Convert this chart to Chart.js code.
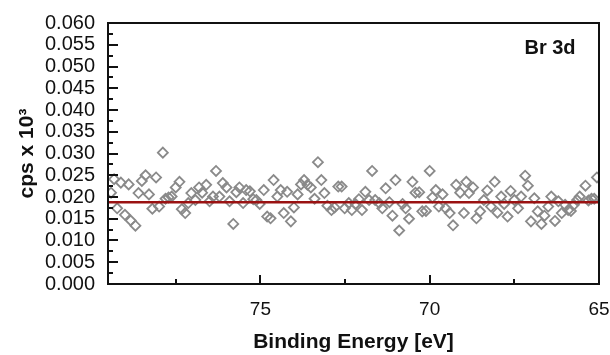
<!DOCTYPE html>
<html>
<head>
<meta charset="utf-8">
<script src="https://cdn.jsdelivr.net/npm/chart.js@4.4.1/dist/chart.umd.min.js"></script>
<style>
html,body{margin:0;padding:0;background:#fff;}
#wrap{width:610px;height:355px;position:relative;}
</style>
</head>
<body>
<div id="wrap"><canvas id="c" width="610" height="355"></canvas></div>
<script>
// Binding energies (eV) of the measured points
const energies = [79.41,79.32,79.23,79.12,79.00,78.89,78.83,78.69,78.60,78.50,78.39,78.29,78.19,78.08,77.99,77.88,77.80,77.71,77.62,77.50,77.39,77.32,77.22,77.13,77.04,76.92,76.81,76.72,76.60,76.50,76.40,76.31,76.21,76.11,76.00,75.91,75.80,75.71,75.62,75.51,75.42,75.31,75.21,75.12,75.02,74.90,74.80,74.70,74.61,74.50,74.40,74.31,74.21,74.10,74.01,73.90,73.80,73.71,73.61,73.51,73.40,73.30,73.20,73.11,73.02,72.90,72.81,72.70,72.60,72.51,72.39,72.30,72.19,72.09,72.00,71.90,71.79,71.70,71.61,71.49,71.40,71.30,71.19,71.10,71.01,70.90,70.80,70.71,70.61,70.51,70.42,70.31,70.22,70.11,70.00,69.92,69.82,69.73,69.62,69.53,69.41,69.31,69.22,69.10,68.99,68.92,68.84,68.72,68.62,68.51,68.40,68.30,68.19,68.08,68.00,67.89,67.80,67.70,67.61,67.50,67.39,67.30,67.18,67.10,67.01,66.91,66.81,66.70,66.61,66.50,66.41,66.30,66.20,66.10,66.00,65.91,65.83,65.74,65.65,65.57,65.40,65.31,65.22,65.14,65.06];
// Counts (cps x 10^3)
const counts = [0.0210,0.0241,0.0174,0.0233,0.0159,0.0229,0.0146,0.0134,0.0209,0.0237,0.0250,0.0206,0.0173,0.0245,0.0178,0.0302,0.0196,0.0199,0.0201,0.0222,0.0235,0.0172,0.0163,0.0186,0.0209,0.0193,0.0222,0.0210,0.0228,0.0190,0.0201,0.0260,0.0201,0.0232,0.0222,0.0190,0.0138,0.0211,0.0222,0.0186,0.0216,0.0213,0.0195,0.0193,0.0184,0.0216,0.0155,0.0151,0.0239,0.0201,0.0216,0.0163,0.0212,0.0144,0.0176,0.0206,0.0229,0.0239,0.0228,0.0222,0.0196,0.0280,0.0239,0.0209,0.0180,0.0170,0.0176,0.0224,0.0224,0.0174,0.0186,0.0170,0.0184,0.0195,0.0170,0.0212,0.0193,0.0260,0.0193,0.0186,0.0174,0.0220,0.0188,0.0157,0.0239,0.0123,0.0184,0.0174,0.0150,0.0235,0.0210,0.0211,0.0167,0.0168,0.0260,0.0199,0.0216,0.0178,0.0206,0.0174,0.0163,0.0135,0.0228,0.0210,0.0163,0.0235,0.0209,0.0222,0.0151,0.0167,0.0193,0.0215,0.0178,0.0235,0.0164,0.0201,0.0184,0.0155,0.0214,0.0193,0.0174,0.0201,0.0249,0.0226,0.0144,0.0197,0.0167,0.0138,0.0157,0.0178,0.0201,0.0145,0.0190,0.0163,0.0182,0.0170,0.0168,0.0182,0.0193,0.0201,0.0226,0.0192,0.0196,0.0196,0.0245];
// Background (baseline) line
const baselineX = [79.5, 65];
const baselineY = [0.0188, 0.0188];
// Axis ticks
const xMajorTicks = [75, 70, 65];
const xMinorTicks = [77.5, 72.5, 67.5];
const yMajorTicks = [0,0.005,0.010,0.015,0.020,0.025,0.030,0.035,0.040,0.045,0.050,0.055,0.060];
const yMinorTicks = [0.0025,0.0075,0.0125,0.0175,0.0225,0.0275,0.0325,0.0375,0.0425,0.0475,0.0525,0.0575];
const xRange = [65, 79.5];
const yRange = [0, 0.06];
const panelLabel = 'Br 3d';

const n = Math.min(energies.length, counts.length);
const pts = [];
for (let i = 0; i < n; i++) pts.push({x: energies[i], y: counts[i]});
const line = baselineX.map((x, i) => ({x, y: baselineY[i]}));

const FONT = "'Liberation Sans', Arial, sans-serif";

const framePlugin = {
  id: 'frame',
  afterDatasetsDraw(chart) {
    const {ctx, chartArea: a, scales: {x, y}} = chart;
    ctx.save();
    ctx.strokeStyle = '#111';
    ctx.lineWidth = 2;
    ctx.strokeRect(a.left, a.top, a.right - a.left, a.bottom - a.top);
    ctx.beginPath();
    yMajorTicks.forEach(v => { const p = Math.round(y.getPixelForValue(v)); ctx.moveTo(a.left, p); ctx.lineTo(a.left + 10, p); });
    yMinorTicks.forEach(v => { const p = Math.round(y.getPixelForValue(v)); ctx.moveTo(a.left, p); ctx.lineTo(a.left + 5, p); });
    xMajorTicks.forEach(v => { const p = Math.round(x.getPixelForValue(v)); ctx.moveTo(p, a.bottom); ctx.lineTo(p, a.bottom - 9); });
    xMinorTicks.forEach(v => { const p = Math.round(x.getPixelForValue(v)); ctx.moveTo(p, a.bottom); ctx.lineTo(p, a.bottom - 5); });
    ctx.stroke();
    ctx.fillStyle = '#111';
    ctx.font = "bold 20px " + FONT;
    ctx.textAlign = 'center';
    ctx.textBaseline = 'middle';
    ctx.fillText(panelLabel, a.right - 49, a.top + 25);
    ctx.restore();
  }
};

new Chart(document.getElementById('c'), {
  type: 'scatter',
  data: {
    datasets: [
      {
        type: 'line',
        data: line,
        borderColor: '#9a1212',
        borderWidth: 2.5,
        pointRadius: 0,
        fill: false,
        order: 0
      },
      {
        data: pts,
        pointStyle: 'rectRot',
        pointRadius: 5,
        pointHoverRadius: 5,
        pointBorderWidth: 1.8,
        pointBorderColor: '#8a8a8a',
        pointBackgroundColor: 'rgba(255,255,255,0)',
        order: 1
      }
    ]
  },
  options: {
    responsive: false,
    animation: false,
    events: [],
    layout: { padding: { left: 0, right: 11, top: 23, bottom: 0 } },
    plugins: { legend: { display: false }, tooltip: { enabled: false } },
    scales: {
      x: {
        type: 'linear',
        reverse: true,
        min: xRange[0],
        max: xRange[1],
        afterBuildTicks(s) { s.ticks = xMajorTicks.map(v => ({value: v})); },
        afterFit(s) { s.height = 71; s.paddingLeft = 0; s.paddingRight = 0; },
        grid: { display: false, drawTicks: false },
        border: { display: false },
        ticks: { color: '#111', font: { size: 19, family: FONT }, padding: 14, maxRotation: 0, autoSkip: false, callback: v => String(v) },
        title: { display: true, text: 'Binding Energy [eV]', color: '#111', font: { size: 21, weight: 'bold', family: FONT }, padding: { top: 0, bottom: 0 } }
      },
      y: {
        type: 'linear',
        min: yRange[0],
        max: yRange[1],
        afterBuildTicks(s) { s.ticks = yMajorTicks.map(v => ({value: v})); },
        afterFit(s) { s.width = 108; s.paddingTop = 0; s.paddingBottom = 0; },
        grid: { display: false, drawTicks: false },
        border: { display: false },
        ticks: { color: '#111', font: { size: 20, family: FONT }, padding: 13, autoSkip: false, callback: v => Number(v).toFixed(3) },
        title: { display: true, text: 'cps x 10³', color: '#111', font: { size: 21, weight: 'bold', family: FONT }, padding: { top: 15, bottom: 0 } }
      }
    }
  },
  plugins: [framePlugin]
});
</script>
</body>
</html>
